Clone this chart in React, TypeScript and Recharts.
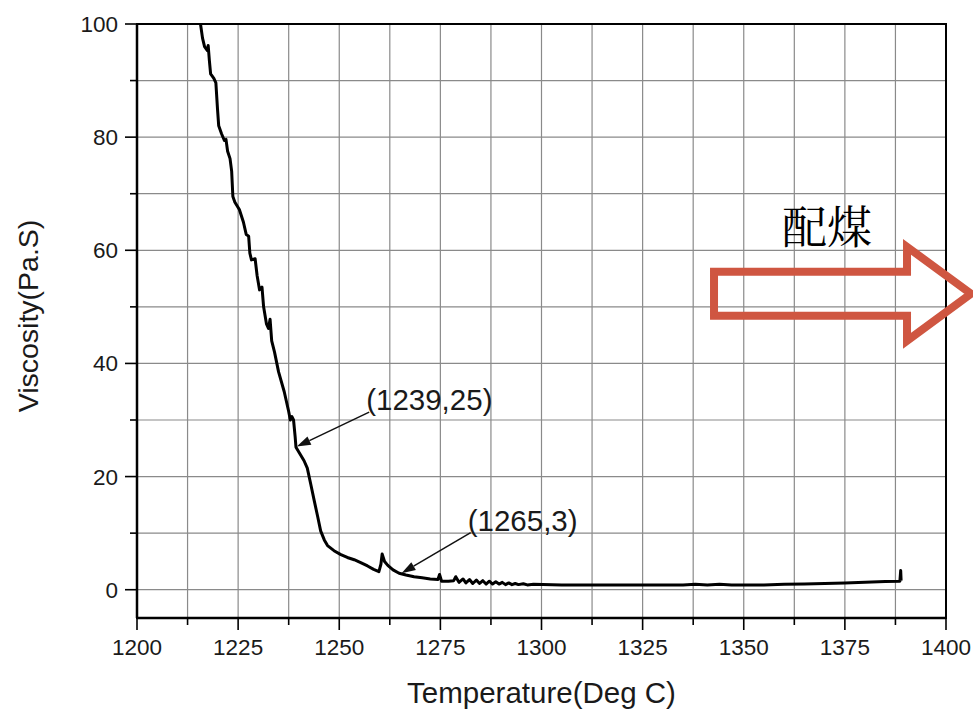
import React from 'react';
import {
  LineChart,
  Line,
  XAxis,
  YAxis,
  CartesianGrid,
  ReferenceArea,
  ReferenceLine,
  ReferenceDot,
  Label,
} from 'recharts';

// Temperature (Deg C)
const temperature = [
  1215.7, 1216.2, 1216.7, 1217.4, 1217.6, 1217.9, 1218.2, 1219.0, 1219.5, 1219.9,
  1220.2, 1220.9, 1221.6, 1222.0, 1222.4, 1223.0, 1223.4, 1223.7, 1224.2, 1225.3,
  1226.3, 1227.0, 1227.6, 1227.9, 1228.3, 1229.2, 1229.7, 1230.3, 1230.9, 1231.3,
  1232.0, 1232.5, 1232.9, 1233.3, 1234.0, 1235.0, 1236.4, 1237.5, 1237.9, 1238.3,
  1238.7, 1239.1, 1239.3, 1240.3, 1241.3, 1242.1, 1243.0, 1243.8, 1244.7, 1245.4,
  1246.3, 1247.1, 1248.7, 1250.4, 1252.0, 1253.7, 1255.3, 1257.0, 1258.5, 1259.8,
  1260.3, 1260.6, 1261.2, 1262.0, 1263.3, 1264.8, 1266.5, 1268.5, 1270.5, 1272.5,
  1274.4, 1274.8, 1275.3, 1277.0, 1278.3, 1278.8, 1279.6, 1280.6, 1281.3, 1282.2,
  1283.0, 1283.9, 1284.7, 1285.5, 1286.3, 1287.1, 1287.9, 1288.7, 1289.5, 1290.3,
  1291.1, 1291.9, 1292.7, 1293.5, 1294.3, 1295.5, 1296.5, 1298.0, 1305.0, 1315.0,
  1325.0, 1335.0, 1338.0, 1341.0, 1344.0, 1347.0, 1350.0, 1355.0, 1360.0, 1365.0,
  1370.0, 1375.0, 1380.0, 1385.0, 1388.6, 1388.8, 1388.9,
];

// Viscosity (Pa.S)
const viscosity = [
  100, 97.5, 96.0, 95.3, 96.2, 93.5, 91.2, 90.4, 89.6, 85.0,
  82.0, 80.6, 79.4, 79.6, 77.5, 76.2, 74.0, 69.5, 68.5, 67.2,
  65.0, 62.8, 62.5, 59.5, 58.3, 58.5, 55.5, 53.0, 53.5, 50.0,
  47.0, 46.2, 47.8, 44.0, 42.0, 38.5, 35.0, 31.5, 30.0, 30.6,
  30.0, 27.0, 25.2, 24.0, 22.8, 21.5, 18.5, 15.8, 12.8, 10.4,
  8.8, 7.8, 6.9, 6.2, 5.7, 5.3, 4.8, 4.2, 3.6, 3.2,
  4.5, 6.3, 5.0, 4.3, 3.5, 2.9, 2.6, 2.3, 2.1, 1.9,
  1.8, 2.7, 1.5, 1.5, 1.6, 2.3, 1.3, 1.9, 1.2, 1.8,
  1.1, 1.7, 1.1, 1.6, 1.0, 1.5, 1.0, 1.4, 1.0, 1.3,
  0.9, 1.2, 0.9, 1.1, 0.9, 1.05, 0.85, 0.95, 0.85, 0.85,
  0.85, 0.85, 0.95, 0.85, 0.95, 0.85, 0.85, 0.85, 0.95, 1.0,
  1.1, 1.2, 1.3, 1.45, 1.5, 3.4, 1.6,
];

const xTicks = [
  1200, 1212.5, 1225, 1237.5, 1250, 1262.5, 1275, 1287.5, 1300,
  1312.5, 1325, 1337.5, 1350, 1362.5, 1375, 1387.5, 1400,
];
const xLabelTicks = [1200, 1225, 1250, 1275, 1300, 1325, 1350, 1375, 1400];
const yTicks = [0, 10, 20, 30, 40, 50, 60, 70, 80, 90, 100];
const yLabelTicks = [0, 20, 40, 60, 80, 100];

const annotationLabels = ['(1239,25)', '(1265,3)'];
const annotationFromT = [1257.4, 1282.5];
const annotationFromV = [31.4, 10.1];
const annotationToT = [1239.5, 1265.4];
const annotationToV = [25.3, 2.9];

const calloutText = '配煤';
const calloutT = 1373.8;
const calloutV = 52.3;

const data = temperature.map((t, i) => ({ t, v: viscosity[i] }));

const FONT = '"Liberation Sans", Arial, sans-serif';
const TEXT = '#1a1a1a';

const XTick = (props: any) => {
  const { x, y, payload } = props;
  const major = xLabelTicks.includes(payload.value);
  return (
    <g>
      <line x1={x} y1={y} x2={x} y2={y + (major ? 12 : 7)} stroke="#000" strokeWidth={1.6} />
      {major && (
        <text x={x} y={y + 37} textAnchor="middle" fontSize={22.5} fill={TEXT} fontFamily={FONT}>
          {payload.value}
        </text>
      )}
    </g>
  );
};

const YTick = (props: any) => {
  const { x, y, payload } = props;
  const major = yLabelTicks.includes(payload.value);
  return (
    <g>
      <line x1={x - (major ? 12 : 7)} y1={y} x2={x} y2={y} stroke="#000" strokeWidth={1.6} />
      {major && (
        <text x={x - 19} y={y + 8} textAnchor="end" fontSize={22.5} fill={TEXT} fontFamily={FONT}>
          {payload.value}
        </text>
      )}
    </g>
  );
};

const makeArrowShape = (label: string) => (p: any) => {
  const { x1, y1, x2, y2 } = p;
  const dx = x2 - x1;
  const dy = y2 - y1;
  const len = Math.sqrt(dx * dx + dy * dy) || 1;
  const ux = dx / len;
  const uy = dy / len;
  const hl = 14;
  const hw = 4.5;
  const bx = x2 - ux * hl;
  const by = y2 - uy * hl;
  const pts = `${x2},${y2} ${bx - uy * hw},${by + ux * hw} ${bx + uy * hw},${by - ux * hw}`;
  return (
    <g>
      <line x1={x1} y1={y1} x2={bx} y2={by} stroke="#111" strokeWidth={1.5} />
      <polygon points={pts} fill="#111" />
      <text x={x1 - 3} y={y1 - 2} fontSize={29.5} fill={TEXT} fontFamily={FONT}>
        {label}
      </text>
    </g>
  );
};

const CalloutShape = (p: any) => {
  const { cx, cy } = p;
  const pts = [
    [-126, -22],
    [67, -22],
    [67, -47],
    [131, 0],
    [67, 47],
    [67, 22],
    [-126, 22],
  ]
    .map(([dx, dy]) => `${cx + dx},${cy + dy}`)
    .join(' ');
  return (
    <g>
      <polygon points={pts} fill="none" stroke="#CF5641" strokeWidth={8} strokeLinejoin="miter" />
      <text
        x={cx - 13}
        y={cy - 50}
        textAnchor="middle"
        fontSize={45}
        fill="#000"
        fontFamily='"Noto Serif CJK SC", "Noto Sans CJK SC", serif'
      >
        {calloutText}
      </text>
    </g>
  );
};

export default function App() {
  return (
    <div style={{ position: 'absolute', left: 0, top: 0, background: '#fff' }}>
      <LineChart
        width={973}
        height={710}
        data={data}
        margin={{ top: 24, right: 27, left: 0, bottom: 0 }}
      >
        <CartesianGrid stroke="#8a8a8a" strokeWidth={1.2} />
        <XAxis
          dataKey="t"
          type="number"
          domain={[1200, 1400]}
          ticks={xTicks}
          interval={0}
          allowDataOverflow
          height={92}
          tickSize={0}
          tickMargin={0}
          tickLine={false}
          axisLine={{ stroke: '#000', strokeWidth: 2.5 }}
          tick={<XTick />}
        >
          <Label
            content={(lp: any) => {
              const vb = lp.viewBox || {};
              return (
                <text
                  x={vb.x + vb.width / 2}
                  y={vb.y + 85}
                  textAnchor="middle"
                  fontSize={29.5}
                  fill={TEXT}
                  fontFamily={FONT}
                >
                  Temperature(Deg C)
                </text>
              );
            }}
          />
        </XAxis>
        <YAxis
          type="number"
          domain={[-5, 100]}
          ticks={yTicks}
          interval={0}
          allowDataOverflow
          width={137}
          tickSize={0}
          tickMargin={0}
          tickLine={false}
          axisLine={{ stroke: '#000', strokeWidth: 2.5 }}
          tick={<YTick />}
        >
          <Label
            content={(lp: any) => {
              const vb = lp.viewBox || {};
              const cx = vb.x + 28;
              const cy = vb.y + vb.height / 2 - 5;
              return (
                <text
                  x={cx}
                  y={cy}
                  transform={`rotate(-90 ${cx} ${cy})`}
                  textAnchor="middle"
                  dominantBaseline="central"
                  fontSize={28.5}
                  fill={TEXT}
                  fontFamily={FONT}
                >
                  Viscosity(Pa.S)
                </text>
              );
            }}
          />
        </YAxis>
        <ReferenceArea
          x1={1200}
          x2={1400}
          y1={-5}
          y2={100}
          fill="none"
          fillOpacity={0}
          stroke="#000"
          strokeWidth={2}
          ifOverflow="visible"
        />
        <Line
          type="linear"
          dataKey="v"
          stroke="#000"
          strokeWidth={3}
          dot={false}
          activeDot={false}
          isAnimationActive={false}
          strokeLinejoin="round"
        />
        {annotationLabels.map((lab, i) => (
          <ReferenceLine
            key={lab}
            segment={[
              { x: annotationFromT[i], y: annotationFromV[i] },
              { x: annotationToT[i], y: annotationToV[i] },
            ]}
            ifOverflow="visible"
            shape={makeArrowShape(lab)}
          />
        ))}
        <ReferenceDot
          x={calloutT}
          y={calloutV}
          r={1}
          ifOverflow="visible"
          shape={CalloutShape}
        />
      </LineChart>
    </div>
  );
}
